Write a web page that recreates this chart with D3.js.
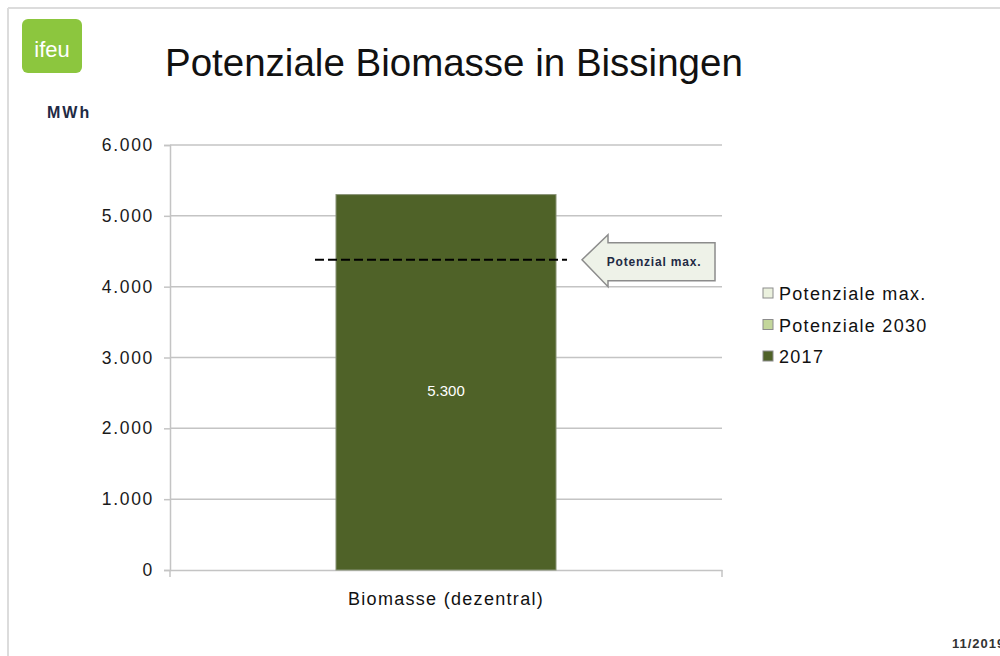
<!DOCTYPE html>
<html>
<head>
<meta charset="utf-8">
<script src="https://cdn.jsdelivr.net/npm/d3@7"></script>
<style>
  body { margin: 0; background: #fff; }
  svg { display: block; font-family: "Liberation Sans", Arial, sans-serif; }
</style>
</head>
<body>
<svg id="chart" width="1000" height="656"></svg>
<script>
// chart data
var categories = ["Biomasse (dezentral)"];
var seriesNames = ["2017", "Potenziale 2030", "Potenziale max."];
var values2017 = [5300];
var values2030 = [0];
var valuesMax = [0];
var potenzialMax = 4380;
var yTicks = [0, 1000, 2000, 3000, 4000, 5000, 6000];
var seriesColors = ["#4f6228", "#c3d69b", "#ebf1de"];

var svg = d3.select("#chart");

var de = d3.formatLocale({decimal: ",", thousands: ".", grouping: [3], currency: ["", " €"]});
var fmt = de.format(",.0f");

var plotLeft = 170, plotRight = 722, plotTop = 145, plotBottom = 570;

var y = d3.scaleLinear().domain([0, 6000]).range([plotBottom, plotTop]);
var x = d3.scaleBand().domain(categories).range([plotLeft, plotRight]).paddingInner(0.43).paddingOuter(0.43);

// frame of the slide
svg.append("line").attr("x1", 8).attr("x2", 1000).attr("y1", 8).attr("y2", 8)
	.attr("stroke", "#dcdcdc").attr("stroke-width", 2);
svg.append("line").attr("x1", 8).attr("x2", 8).attr("y1", 8).attr("y2", 656)
	.attr("stroke", "#dcdcdc").attr("stroke-width", 2);

// logo
svg.append("rect").attr("x", 22).attr("y", 19).attr("width", 60).attr("height", 54).attr("rx", 6)
	.attr("fill", "#8cc63e");
svg.append("text").attr("x", 52).attr("y", 57).attr("text-anchor", "middle")
	.attr("fill", "#fff").attr("font-size", 22).text("ifeu");

// title
svg.append("text").attr("x", 165).attr("y", 76).attr("font-size", 38.5).attr("fill", "#111")
	.text("Potenziale Biomasse in Bissingen");

svg.append("text").attr("x", 47).attr("y", 118).attr("font-size", 16).attr("font-weight", "bold")
	.attr("letter-spacing", 2).attr("fill", "#1f2a44").text("MWh");

// grid
svg.append("g").selectAll("line").data(yTicks.filter(function(d) { return d > 0; })).join("line")
	.attr("x1", plotLeft).attr("x2", plotRight)
	.attr("y1", function(d) { return y(d); }).attr("y2", function(d) { return y(d); })
	.attr("stroke", "#c4c4c4").attr("stroke-width", 1.5);

// y axis
var yAxis = svg.append("g").attr("transform", "translate(" + plotLeft + ",0)")
	.call(d3.axisLeft(y).tickValues(yTicks).tickFormat(fmt).tickSize(6).tickPadding(10));
yAxis.select(".domain").attr("stroke", "#c4c4c4").attr("stroke-width", 1.5);
yAxis.selectAll(".tick line").attr("stroke", "#c4c4c4").attr("stroke-width", 1.5);
yAxis.selectAll(".tick text").attr("font-size", 17.5).attr("letter-spacing", 1.7)
	.attr("fill", "#1a1a1a").attr("font-family", "Liberation Sans, Arial, sans-serif");

// x axis
var xAxis = svg.append("g").attr("transform", "translate(0," + plotBottom + ")")
	.call(d3.axisBottom(x).tickSize(0).tickPadding(22));
xAxis.select(".domain").attr("stroke", "#c4c4c4").attr("stroke-width", 1.5);
xAxis.selectAll(".tick text").attr("font-size", 18).attr("letter-spacing", 1.3)
	.attr("fill", "#111").attr("font-family", "Liberation Sans, Arial, sans-serif");
svg.append("g").selectAll("line").data([plotLeft, plotRight]).join("line")
	.attr("x1", function(d) { return d; }).attr("x2", function(d) { return d; })
	.attr("y1", plotBottom).attr("y2", plotBottom + 7)
	.attr("stroke", "#c4c4c4").attr("stroke-width", 1.5);

// stacked bars
var rows = categories.map(function(c, i) {
	return {cat: c, "2017": values2017[i], "Potenziale 2030": values2030[i], "Potenziale max.": valuesMax[i]};
});
var stacked = d3.stack().keys(seriesNames)(rows);

svg.append("g").selectAll("g").data(stacked).join("g")
	.attr("fill", function(d, i) { return seriesColors[i]; })
	.selectAll("rect").data(function(d) { return d; }).join("rect")
	.attr("x", function(d) { return x(d.data.cat); })
	.attr("width", x.bandwidth())
	.attr("y", function(d) { return y(d[1]); })
	.attr("height", function(d) { return y(d[0]) - y(d[1]); })
	.attr("stroke", function(d) { return d[1] > d[0] ? "#8a9478" : "none"; })
	.attr("stroke-width", 1);

// label of the 2017 segment
svg.append("g").selectAll("text").data(stacked[0]).join("text")
	.attr("x", function(d) { return x(d.data.cat) + x.bandwidth() / 2; })
	.attr("y", function(d) { return y((d[0] + d[1]) / 2) + 14; })
	.attr("text-anchor", "middle").attr("font-size", 15).attr("fill", "#fff")
	.text(function(d) { return fmt(d[1] - d[0]); });

// Potenzial max. dashed line
var bx = x(categories[0]);
var ym = y(potenzialMax);
svg.append("line").attr("x1", bx - 21).attr("x2", bx + x.bandwidth() + 11)
	.attr("y1", ym).attr("y2", ym)
	.attr("stroke", "#000").attr("stroke-width", 2).attr("stroke-dasharray", "9,4");

// callout arrow
var ax = bx + x.bandwidth() + 26;
var pts = [[ax, ym], [ax + 26, ym - 25], [ax + 26, ym - 17], [ax + 133, ym - 17],
	[ax + 133, ym + 21], [ax + 26, ym + 21], [ax + 26, ym + 27]];
svg.append("polygon").attr("points", pts.map(function(p) { return p.join(","); }).join(" "))
	.attr("fill", "#eef2e8").attr("stroke", "#8c8c8c").attr("stroke-width", 1.5);
svg.append("text").attr("x", ax + 72).attr("y", ym + 6).attr("text-anchor", "middle")
	.attr("font-size", 12).attr("font-weight", "bold").attr("letter-spacing", 0.8)
	.attr("fill", "#1f2a44").text("Potenzial max.");

// legend (top item is last series)
var legendItems = seriesNames.slice().reverse();
var legendColors = seriesColors.slice().reverse();
var lg = svg.append("g").selectAll("g").data(legendItems).join("g")
	.attr("transform", function(d, i) { return "translate(763," + (293 + i * 31.5) + ")"; });
lg.append("rect").attr("x", 0).attr("y", -5).attr("width", 10).attr("height", 10)
	.attr("fill", function(d, i) { return legendColors[i]; })
	.attr("stroke", "#8c8c8c").attr("stroke-width", 1);
lg.append("text").attr("x", 16).attr("y", 7).attr("font-size", 18).attr("letter-spacing", 1.3)
	.attr("fill", "#111").text(function(d) { return d; });

// date footer
svg.append("text").attr("x", 952).attr("y", 648).attr("font-size", 13).attr("font-weight", "bold")
	.attr("letter-spacing", 1).attr("fill", "#333").text("11/2019");
</script>
</body>
</html>
